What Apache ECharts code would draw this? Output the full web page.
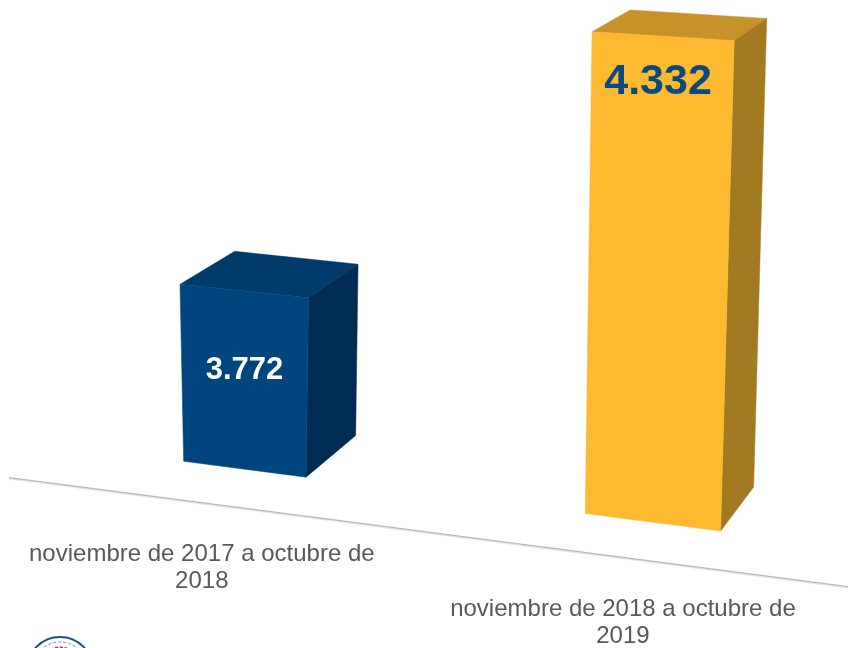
<!DOCTYPE html>
<html><head><meta charset="utf-8">
<script src="https://cdn.jsdelivr.net/npm/echarts@6.0.0/dist/echarts.min.js"></script>
<style>html,body{margin:0;padding:0;background:#fff}#c{width:848px;height:648px}</style>
</head><body><div id="c"></div>
<script>
const categories = ['noviembre de 2017 a octubre de\n2018', 'noviembre de 2018 a octubre de\n2019'];
const values = [3.772, 4.332];
const valueLabels = ['3.772', '4.332'];
const axisMin = 3.45, axisMax = 4.4;

const frontColors = ['#00457e', '#fdb92f'];
const topColors = ['#003b6c', '#c8922b'];
const sideColors = ['#002b52', '#a17a21'];
const labelColors = ['#ffffff', '#0b4a80'];
const labelSizes = [31, 43];
const labelPlacement = ['center', 'insideEnd'];

const FONT = '"Liberation Sans", Arial, sans-serif';
const SLOPE = 0.13;

function bottomY(base, x) { return base - SLOPE * (720 - x); }
function depth(p) { return [52 - 0.04 * (p[0] - 246), -20.4 - 0.0444 * p[1]]; }
function add(p, d) { return [p[0] + d[0], p[1] + d[1]]; }

function renderBar(params, api) {
  const i = params.dataIndex;
  const v = api.value(1);
  const top = api.coord([api.value(0), v]);
  const base = api.coord([api.value(0), axisMin]);
  const cx = base[0];
  const h = (base[1] - top[1]) * (1 - 0.006 * i);
  const s = 1 + (cx - 246) * 0.00026;
  const hw = api.size([1, 0])[0] * 0.15 * s;
  const hwT = hw * 1.05;
  const lean = h * (cx - 300) * 0.00006;
  const topSlope = SLOPE - 0.00014 * h;
  const BL = [cx - hw, bottomY(base[1], cx - hw)];
  const BR = [cx + hw, bottomY(base[1], cx + hw)];
  const TL = [cx + lean - hwT, BL[1] - h];
  const TR = [cx + lean + hwT, TL[1] + topSlope * 2 * hwT];
  const TLb = add(TL, depth(TL)), TRb = add(TR, depth(TR)), BRb = add(BR, depth(BR));
  const fx = (TL[0] + TR[0] + BL[0] + BR[0]) / 4;
  const topMid = (TL[1] + TR[1]) / 2;
  const ly = labelPlacement[i] === 'center' ? topMid + h * 0.45 : topMid + 46;
  const lx = cx + (-43 + (cx - 246) * 0.032);
  const labY = bottomY(base[1], lx) + 39 + 38;
  return {
    type: 'group',
    children: [
      { type: 'polygon', shape: { points: [TL, TR, TRb, TLb] }, style: { fill: topColors[i], stroke: topColors[i], lineWidth: 0.5 } },
      { type: 'polygon', shape: { points: [TR, BR, BRb, TRb] }, style: { fill: sideColors[i], stroke: sideColors[i], lineWidth: 0.5 } },
      { type: 'polygon', shape: { points: [TL, TR, BR, BL] }, style: { fill: frontColors[i], stroke: frontColors[i], lineWidth: 0.5 } },
      { type: 'text', x: fx, y: ly, style: { text: valueLabels[i], fill: labelColors[i], font: 'bold ' + labelSizes[i] + 'px ' + FONT, align: 'center', verticalAlign: 'middle' } },
      { type: 'text', x: lx, y: labY, style: { text: categories[i], fill: '#595959', font: '24px ' + FONT, align: 'center', verticalAlign: 'top', lineHeight: 27 } }
    ]
  };
}

function renderFloor(params, api) {
  const base = api.coord([0, axisMin]);
  const x1 = 9, x2 = 848;
  const y1 = bottomY(base[1], x1) + 39, y2 = bottomY(base[1], x2) + 39;
  return {
    type: 'group',
    children: [
      { type: 'line', shape: { x1: x1, y1: y1 + 1.2, x2: x2, y2: y2 + 1.2 }, style: { stroke: '#e6e6e6', lineWidth: 1.5 } },
      { type: 'line', shape: { x1: x1, y1: y1, x2: x2, y2: y2 }, style: { stroke: '#b8b8b8', lineWidth: 1.4 } }
    ]
  };
}

const chart = echarts.init(document.getElementById('c'), null, { renderer: 'canvas' });
chart.setOption({
  animation: false,
  backgroundColor: '#ffffff',
  grid: { left: 0, right: 0, top: 9, bottom: 117, containLabel: false },
  xAxis: { type: 'value', min: -0.6, max: 1.478, show: false },
  yAxis: { type: 'value', min: axisMin, max: axisMax, show: false },
  graphic: [
    { type: 'circle', shape: { cx: 60, cy: 670, r: 33 }, style: { fill: '#ffffff', stroke: '#1f4f8a', lineWidth: 2 } },
    { type: 'circle', shape: { cx: 60, cy: 670, r: 28 }, style: { fill: 'none', stroke: '#6f8fb8', lineWidth: 1, lineDash: [3, 2] } },
    { type: 'arc', shape: { cx: 60, cy: 670, r: 22, startAngle: Math.PI * 1.3, endAngle: Math.PI * 1.7 }, style: { stroke: '#c0303a', lineWidth: 3, fill: 'none', lineDash: [3, 1.5] } }
  ],
  series: [
    { type: 'custom', renderItem: renderFloor, data: [[0, axisMin]], silent: true, z: 1 },
    { type: 'custom', renderItem: renderBar, data: values.map((v, i) => [i, v]), silent: true, z: 2 }
  ]
});
</script>
</body></html>
